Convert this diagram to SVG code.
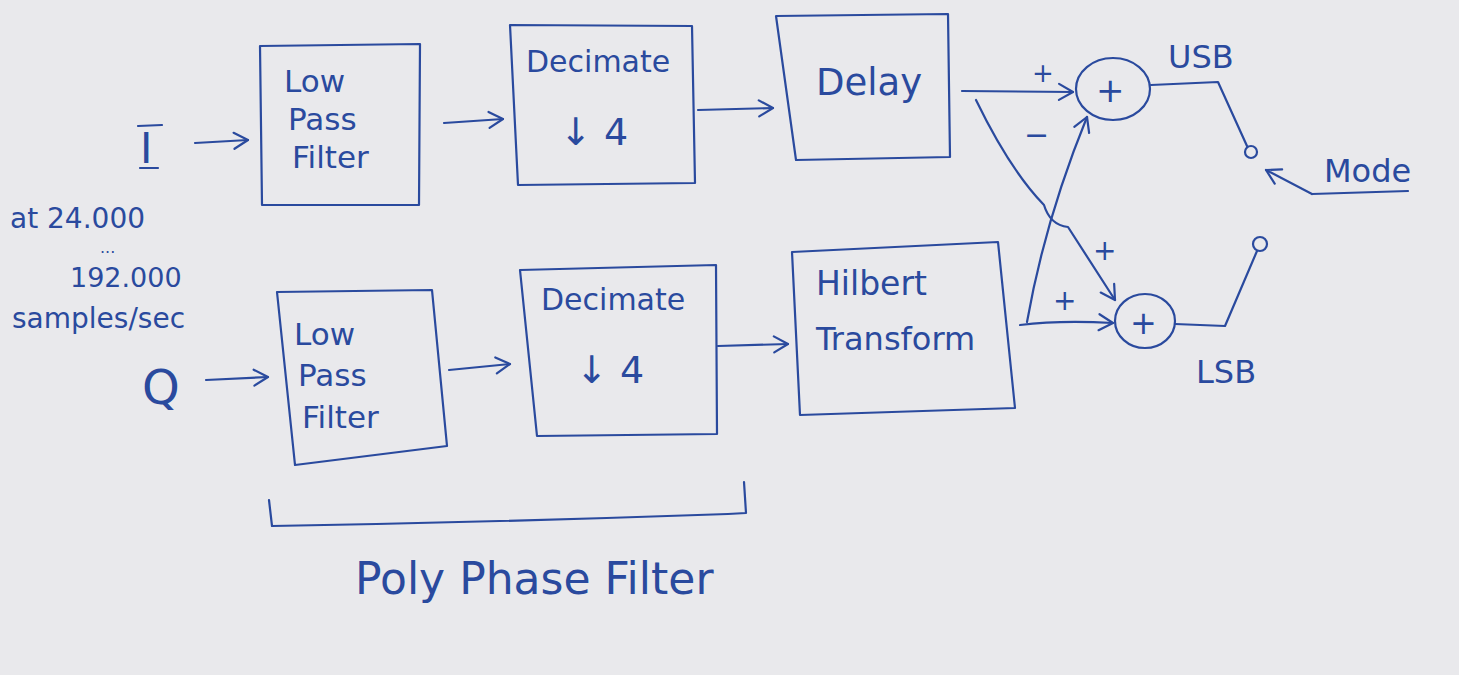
<svg xmlns="http://www.w3.org/2000/svg" width="1459" height="675" viewBox="0 0 1459 675">
<defs>
<marker id="ah" markerWidth="20" markerHeight="20" refX="16" refY="10" orient="auto" markerUnits="userSpaceOnUse">
<path d="M2,2 L16,10 L2,18" fill="none" stroke="#2a4a9e" stroke-width="2.2" stroke-linecap="round" stroke-linejoin="round"/>
</marker>
<style>
.ink{fill:none;stroke:#2a4a9e;stroke-width:2.2;stroke-linecap:round;stroke-linejoin:round}
.t{font-family:"DejaVu Sans","Liberation Sans",sans-serif;fill:#2a4a9e}
.lbl{font-size:31px}
</style>
</defs>
<rect width="1459" height="675" fill="#e9e9ec"/>

<g id="input-I">
<text class="t" x="140" y="163" font-size="42">I</text>
<path class="ink" d="M138,126 L162,125 M140,168 L158,168"/>
</g>
<g id="input-Q">
<text class="t" x="142" y="404" font-size="48">Q</text>
</g>
<g id="rate-note" class="t">
<text x="10" y="228" font-size="28">at 24.000</text>
<text x="100" y="253" font-size="16">...</text>
<text x="70" y="287" font-size="27">192.000</text>
<text x="12" y="328" font-size="28">samples/sec</text>
</g>

<g id="lpf1">
<path class="ink" d="M260,46 L420,44 L419,205 L262,205 Z"/>
<text class="t lbl" x="284" y="92">Low</text>
<text class="t lbl" x="288" y="130">Pass</text>
<text class="t lbl" x="292" y="168">Filter</text>
</g>
<g id="dec1">
<path class="ink" d="M510,25 L692,26 L695,183 L518,185 Z"/>
<text class="t" x="526" y="72" font-size="30">Decimate</text>
<text class="t" x="560" y="145" font-size="38">↓ 4</text>
</g>
<g id="delay">
<path class="ink" d="M776,16 L948,14 L950,157 L796,160 Z"/>
<text class="t" x="816" y="95" font-size="37">Delay</text>
</g>
<g id="lpf2">
<path class="ink" d="M277,292 L432,290 L447,446 L295,465 Z"/>
<text class="t lbl" x="294" y="345">Low</text>
<text class="t lbl" x="298" y="386">Pass</text>
<text class="t lbl" x="302" y="428">Filter</text>
</g>
<g id="dec2">
<path class="ink" d="M520,270 L716,265 L717,434 L537,436 Z"/>
<text class="t" x="541" y="310" font-size="30">Decimate</text>
<text class="t" x="576" y="383" font-size="38">↓ 4</text>
</g>
<g id="hilbert">
<path class="ink" d="M792,252 L998,242 L1015,408 L800,415 Z"/>
<text class="t" x="816" y="295" font-size="33">Hilbert</text>
<text class="t" x="816" y="350" font-size="32">Transform</text>
</g>
<g id="sum-usb">
<ellipse class="ink" cx="1113" cy="89" rx="37" ry="31"/>
<text class="t" x="1096" y="102" font-size="34">+</text>
</g>
<g id="sum-lsb">
<ellipse class="ink" cx="1145" cy="321" rx="30" ry="27"/>
<text class="t" x="1130" y="334" font-size="32">+</text>
</g>
<g id="switch">
<circle class="ink" cx="1251" cy="152" r="6"/>
<circle class="ink" cx="1260" cy="244" r="7"/>
</g>
<g id="labels" class="t">
<text x="1168" y="68" font-size="32">USB</text>
<text x="1196" y="383" font-size="32">LSB</text>
<text x="1324" y="182" font-size="32">Mode</text>
<text x="1032" y="82" font-size="26">+</text>
<text x="1024" y="145" font-size="30">−</text>
<text x="1093" y="260" font-size="28">+</text>
<text x="1053" y="310" font-size="28">+</text>
</g>
<g id="bracket">
<path class="ink" d="M269,500 L272,526 Q500,522 728,514 L746,513 M744,482 L746,513"/>
<text class="t" x="355" y="594" font-size="44">Poly Phase Filter</text>
</g>

<g id="connectors">
<path class="ink" d="M195,143 L248,140" marker-end="url(#ah)"/>
<path class="ink" d="M206,380 L268,377" marker-end="url(#ah)"/>
<path class="ink" d="M444,123 L503,119" marker-end="url(#ah)"/>
<path class="ink" d="M698,110 L773,108" marker-end="url(#ah)"/>
<path class="ink" d="M449,370 L510,364" marker-end="url(#ah)"/>
<path class="ink" d="M718,346 L788,344" marker-end="url(#ah)"/>
<path class="ink" d="M962,91 L1073,92" marker-end="url(#ah)"/>
<path class="ink" d="M976,100 Q1010,170 1044,205 Q1050,225 1068,227 L1115,300" marker-end="url(#ah)"/>
<path class="ink" d="M1020,325 Q1060,320 1113,323" marker-end="url(#ah)"/>
<path class="ink" d="M1027,322 Q1045,220 1087,117" marker-end="url(#ah)"/>
<path class="ink" d="M1151,85 L1218,82 L1247,146"/>
<path class="ink" d="M1175,324 L1225,326 L1257,251"/>
<path class="ink" d="M1312,194 L1266,170" marker-end="url(#ah)"/>
<path class="ink" d="M1312,194 L1408,191"/>
</g>
</svg>
